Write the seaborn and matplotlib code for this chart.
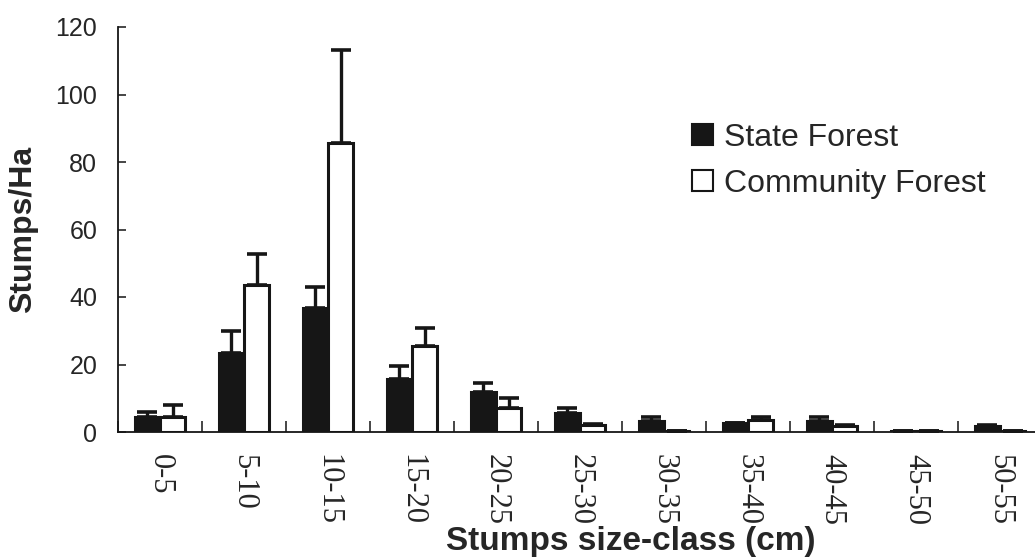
import matplotlib
matplotlib.use("Agg")
import matplotlib.pyplot as plt
import seaborn as sns
import pandas as pd
import numpy as np
from matplotlib.ticker import FixedLocator

categories = ["0-5", "5-10", "10-15", "15-20", "20-25", "25-30",
              "30-35", "35-40", "40-45", "45-50", "50-55"]
state = [4.4, 23.5, 36.7, 15.8, 12.0, 5.5, 3.3, 2.6, 3.4, 0.2, 1.8]
state_err = [1.6, 6.3, 6.3, 3.7, 2.6, 1.7, 1.0, 0.0, 1.1, 0.0, 0.3]
community = [4.4, 43.5, 85.5, 25.5, 7.2, 2.0, 0.3, 3.5, 1.8, 0.2, 0.2]
community_err = [3.6, 9.2, 27.8, 5.4, 3.0, 0.5, 0.0, 0.9, 0.4, 0.0, 0.0]
series = ["State Forest", "Community Forest"]
yticks = [0, 20, 40, 60, 80, 100, 120]

df = pd.DataFrame({
    "cls": categories * 2,
    "val": state + community,
    "series": [series[0]] * len(categories) + [series[1]] * len(categories),
})

sns.set_style("white")
plt.rcParams["font.family"] = ["Liberation Sans", "DejaVu Sans"]

fig = plt.figure(figsize=(10.35, 5.58), dpi=100)
ax = fig.add_axes([118 / 1035, 126 / 558, 924 / 1035, 405 / 558])

sns.barplot(data=df, x="cls", y="val", hue="series", order=categories,
            hue_order=series, palette=["#161616", "white"], width=0.6,
            edgecolor="#161616", linewidth=2.2, errorbar=None, ax=ax,
            saturation=1)

# error bars (upper only) at the bar centres
errs = [state_err, community_err]
vals = [state, community]
bar_conts = list(ax.containers)
for k, cont in enumerate(bar_conts):
    xs = [p.get_x() + p.get_width() / 2 for p in cont.patches]
    e = np.array(errs[k])
    ax.errorbar(xs, vals[k], yerr=[np.zeros_like(e), e], fmt="none",
                ecolor="#161616", elinewidth=2.4, capsize=7.5, capthick=2.6,
                zorder=1)

ax.set_ylim(0, 120)
ax.set_xlim(-0.5, 10.5)
ax.set_yticks(yticks)
ax.set_yticklabels([str(t) for t in yticks], fontsize=18)
ax.tick_params(axis="y", direction="in", length=6, width=1.2, left=True,
               pad=15)

ax.xaxis.set_minor_locator(FixedLocator(np.arange(-0.5, 11, 1.0)))
ax.tick_params(axis="x", which="major", length=0, pad=16)
ax.tick_params(axis="x", which="minor", direction="in", length=8, width=1.2,
               bottom=True)
for lab in ax.get_xticklabels():
    lab.set_rotation(270)
    lab.set_fontfamily(["Liberation Serif", "DejaVu Serif"])
    lab.set_fontsize(22)
    lab.set_va("top")
    lab.set_ha("center")

for s in ["top", "right"]:
    ax.spines[s].set_visible(False)
for s in ["left", "bottom"]:
    ax.spines[s].set_color("#161616")
    ax.spines[s].set_linewidth(1.3)

ax.set_xlabel("Stumps size-class (cm)", fontsize=24, fontweight="bold")
ax.xaxis.set_label_coords(0.555, -0.233)
ax.xaxis.label.set_va("top")
ax.set_ylabel("Stumps/Ha", fontsize=23, fontweight="bold")
ax.yaxis.set_label_coords(-0.103, 0.5)
ax.yaxis.label.set_va("center")

leg = ax.legend(loc="upper left", bbox_to_anchor=(0.59, 0.835), frameon=False,
                fontsize=23, handlelength=0.65, handleheight=0.65,
                handletextpad=0.35, labelspacing=0.5)
for h in leg.legend_handles:
    h.set_linewidth(1.5)

fig.savefig("out.png", dpi=100)
